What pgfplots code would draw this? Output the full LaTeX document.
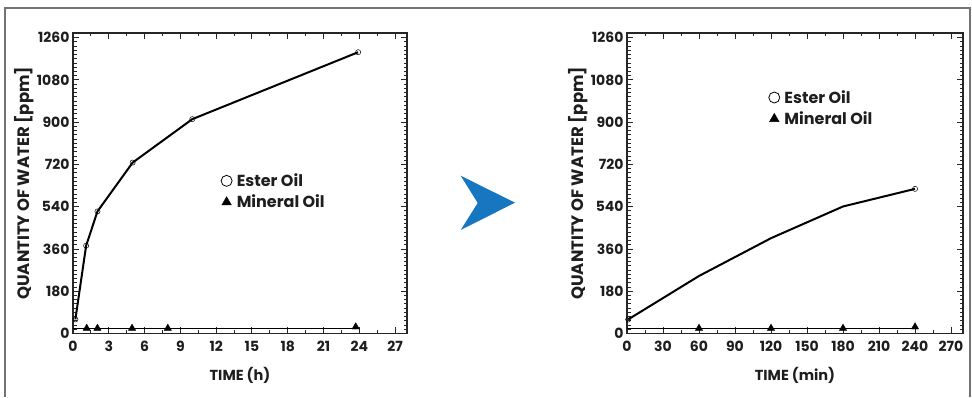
\documentclass[border=0pt]{standalone}
\usepackage{fontspec}
\setmainfont{Poppins}
\usepackage{pgfplots}
\pgfplotsset{compat=1.18}
\definecolor{arrowblue}{RGB}{22,118,192}
\definecolor{txt}{RGB}{30,30,30}
\pgfplotsset{
  oilaxis/.style={
    scale only axis,
    height=300.5pt,
    ymin=0, ymax=1280,
    ytick={0,180,360,540,720,900,1080,1260},
    minor y tick num=9,
    axis line style={line width=1.5pt, black!85},
    tick style={black!85, line width=0.9pt},
    major tick length=6pt,
    minor tick length=3.5pt,
    tick align=inside,
    /pgf/number format/assume math mode=true,
    /pgf/number format/1000 sep={},
    tick label style={font=\fontsize{14}{14}\selectfont\bfseries, text=txt},
    xticklabel style={yshift=-4pt},
    label style={font=\fontsize{14.5}{15}\selectfont\bfseries, text=txt},
    ylabel={QUANTITY OF WATER [ppm]},
    ylabel style={at={(axis description cs:0,0.5)}, anchor=south, yshift=36pt,
      font=\fontsize{16.5}{17}\selectfont\bfseries},
    xlabel style={yshift=-9pt},
    legend style={draw=none, fill=none, font=\fontsize{16}{16}\selectfont\bfseries, text=txt,
      row sep=3pt, inner sep=0pt},
    legend cell align=left,
  }
}
\begin{document}
\begin{tikzpicture}[x=1pt,y=1pt]
\path (0,0) rectangle (972,397);
\draw[black!55, line width=1.3pt] (5,0) -- (5,389) -- (970,389) -- (970,0);
% arrow
\fill[arrowblue] (460.7,221.3) -- (515,194.3) -- (460.7,167) -- (477.7,194) -- cycle;

\begin{axis}[oilaxis,
  at={(73pt,63.5pt)}, anchor=south west,
  width=334pt,
  xmin=0, xmax=28,
  xtick={0,3,...,27},
  minor x tick num=1,
  xlabel={TIME (h)},
  legend style={at={(axis cs:12.4,690)}, anchor=north west},
]
\addplot[forget plot, black, line width=2pt, mark=o, mark size=2.6pt,
  mark options={line width=0.5pt, fill=white}]
  coordinates {(0.2,60) (1.1,374) (2.05,520) (5,728) (10,913) (23.9,1198)};
\addplot[forget plot, black, line width=1.2pt]
  coordinates {(0,22) (23.7,22)};
\addplot[forget plot, only marks, black, mark=triangle*, mark size=4.2pt]
  coordinates {(1.15,22) (2.05,22) (4.95,22) (7.95,22) (23.7,28)};
\addlegendimage{only marks, mark=o, mark size=5.5pt, mark options={line width=0.8pt}}
\addlegendentry{\,Ester Oil}
\addlegendimage{only marks, mark=triangle*, mark size=5.5pt}
\addlegendentry{\,Mineral Oil}
\end{axis}

\begin{axis}[oilaxis,
  at={(627pt,63.5pt)}, anchor=south west,
  width=336pt,
  xmin=0, xmax=280,
  xtick={0,30,...,270},
  minor x tick num=1,
  xlabel={TIME (min)},
  legend style={at={(axis cs:118,1045)}, anchor=north west},
]
\addplot[forget plot, black, line width=2pt]
  coordinates {(1,60) (60,245) (120,406) (180,541) (240,616)};
\addplot[forget plot, only marks, black, mark=o, mark size=2.6pt,
  mark options={line width=0.5pt, fill=white}]
  coordinates {(1,60) (240,616)};
\addplot[forget plot, black, line width=1.2pt]
  coordinates {(0,22) (240,22)};
\addplot[forget plot, only marks, black, mark=triangle*, mark size=4.2pt]
  coordinates {(60,22) (120,22) (180,22) (240,28)};
\addlegendimage{only marks, mark=o, mark size=5.5pt, mark options={line width=0.8pt}}
\addlegendentry{\,Ester Oil}
\addlegendimage{only marks, mark=triangle*, mark size=5.5pt}
\addlegendentry{\,Mineral Oil}
\end{axis}
\end{tikzpicture}
\end{document}
